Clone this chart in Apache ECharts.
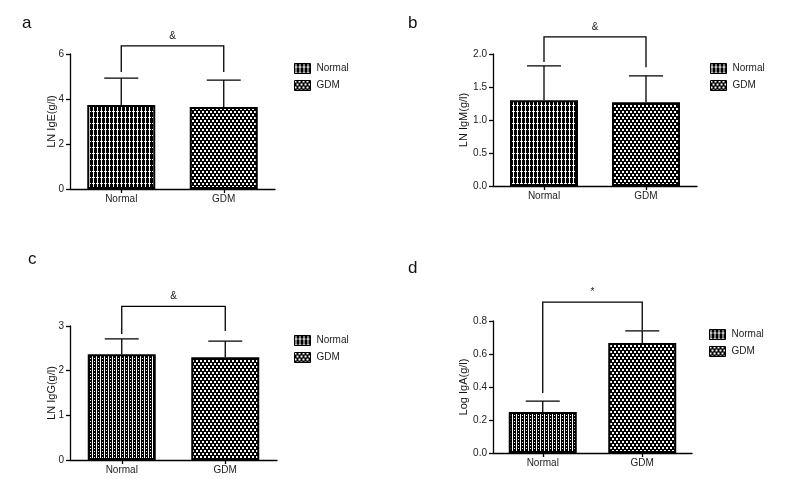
<!DOCTYPE html>
<html><head><meta charset="utf-8">
<script src="https://cdn.jsdelivr.net/npm/echarts@6/dist/echarts.min.js"></script>
<style>html,body{margin:0;padding:0;background:#fff}#c{width:792px;height:479px}</style>
</head><body><div id="c"></div>
<script>
// ---- data ----
const categories = ['Normal', 'GDM'];
const panelLetters = ['a', 'b', 'c', 'd'];
const yTitles = ['LN IgE(g/l)', 'LN IgM(g/l)', 'LN IgG(g/l)', 'Log IgA(g/l)'];
const meansA = [3.73, 3.65];
const sdA = [1.20, 1.19];
const meansB = [1.30, 1.27];
const sdB = [0.52, 0.40];
const meansC = [2.37, 2.30];
const sdC = [0.34, 0.36];
const meansD = [0.248, 0.667];
const sdD = [0.067, 0.073];
// y axis max / interval
const yMaxes = [6, 2.0, 3, 0.8];
const yIntervals = [2, 0.5, 1, 0.2];
const yDecimals = [0, 1, 0, 1];
// significance brackets: [left leg bottom, bracket top, right leg bottom]
const bracketA = [5.2, 6.36, 5.2];
const bracketB = [1.88, 2.26, 1.80];
const bracketC = [2.82, 3.44, 2.89];
const bracketD = [0.364, 0.915, 0.745];
const sigMarks = ['&', '&', '&', '*'];

// ---- patterns ----
function makePattern(kind) {
  const c = document.createElement('canvas');
  let w, h;
  if (kind === 'lines') { w = 4; h = 6; }
  else if (kind === 'dots') { w = 4; h = 3; }
  else { w = 4; h = 6; }
  c.width = w; c.height = h;
  const g = c.getContext('2d');
  g.fillStyle = '#000'; g.fillRect(0, 0, w, h);
  g.fillStyle = '#fff';
  if (kind === 'lines') {
    g.fillRect(1, 0, 1, h);
    g.fillRect(0, 3, 3, 1);
  } else if (kind === 'dots') {
    g.fillRect(0, 0, 1, h);
    g.fillRect(2, 1, 1, 1);
  } else {
    g.fillRect(0, 0, 2, 2);
    g.fillRect(2, 3, 2, 2);
  }
  return { image: c, repeat: 'repeat' };
}
const patLines = makePattern('lines');
const patDots = makePattern('dots');
const patChecker = makePattern('checker');

const panels = [
  { means: meansA, sd: sdA, br: bracketA, grid: { left: 70, top: 54, width: 205, height: 135 }, legend: { left: 289, top: 58 }, letter: [22, 15], normalPat: patLines, nameGap: 13 },
  { means: meansB, sd: sdB, br: bracketB, grid: { left: 493, top: 54, width: 204, height: 132 }, legend: { left: 705, top: 58 }, letter: [408, 15], normalPat: patLines, nameGap: 24 },
  { means: meansC, sd: sdC, br: bracketC, grid: { left: 70, top: 326, width: 207, height: 134 }, legend: { left: 289, top: 330 }, letter: [28, 251], normalPat: patDots, nameGap: 13 },
  { means: meansD, sd: sdD, br: bracketD, grid: { left: 493, top: 321, width: 199, height: 132 }, legend: { left: 704, top: 324 }, letter: [408, 260], normalPat: patDots, nameGap: 24 }
];

const font = 'Liberation Sans, Arial, sans-serif';
const option = { animation: false, backgroundColor: '#fff', grid: [], xAxis: [], yAxis: [], series: [], legend: [], graphic: [] };

panels.forEach((p, i) => {
  option.grid.push(Object.assign({ containLabel: false }, p.grid));
  option.xAxis.push({
    gridIndex: i, type: 'category', data: categories,
    axisLine: { lineStyle: { color: '#000', width: 1.3 } },
    axisTick: { show: true, alignWithLabel: true, length: 4, lineStyle: { color: '#000', width: 1.3 } },
    axisLabel: { color: '#222', fontSize: 10, fontFamily: font, margin: 5 },
    splitLine: { show: false }
  });
  option.yAxis.push({
    gridIndex: i, type: 'value', min: 0, max: yMaxes[i], interval: yIntervals[i],
    name: yTitles[i], nameLocation: 'middle', nameGap: p.nameGap, nameMoveOverlap: false,
    nameTextStyle: { color: '#111', fontSize: 11, fontFamily: font },
    axisLine: { show: true, lineStyle: { color: '#000', width: 1.3 } },
    axisTick: { show: true, inside: false, length: 4, lineStyle: { color: '#000', width: 1.3 } },
    axisLabel: { color: '#222', fontSize: 10, fontFamily: font, margin: 6,
      formatter: v => v.toFixed(yDecimals[i]) },
    splitLine: { show: false }
  });
  const barBase = {
    type: 'bar', xAxisIndex: i, yAxisIndex: i, barWidth: 68, barGap: '-100%'
  };
  option.series.push(Object.assign({}, barBase, {
    name: 'Normal', data: [p.means[0], '-'],
    itemStyle: { color: p.normalPat, borderColor: '#000', borderWidth: 2 }
  }));
  option.series.push(Object.assign({}, barBase, {
    name: 'GDM', data: ['-', p.means[1]],
    itemStyle: { color: patChecker, borderColor: '#000', borderWidth: 2 }
  }));
  // error bars (upper only)
  option.series.push({
    type: 'custom', xAxisIndex: i, yAxisIndex: i, z: 3,
    data: categories.map((c, k) => [k, p.means[k], p.means[k] + p.sd[k]]),
    renderItem: function (params, api) {
      const b = api.coord([api.value(0), api.value(1)]);
      const t = api.coord([api.value(0), api.value(2)]);
      const hw = 17;
      return { type: 'group', children: [
        { type: 'line', shape: { x1: b[0], y1: b[1], x2: t[0], y2: t[1] }, style: { stroke: '#000', lineWidth: 1.3 } },
        { type: 'line', shape: { x1: t[0] - hw, y1: t[1], x2: t[0] + hw, y2: t[1] }, style: { stroke: '#000', lineWidth: 1.3 } }
      ] };
    }
  });
  // significance bracket
  option.series.push({
    type: 'custom', xAxisIndex: i, yAxisIndex: i, z: 3, clip: false,
    data: [[0, p.br[0], p.br[1], p.br[2]]],
    renderItem: function (params, api) {
      const a = api.coord([0, api.value(1)]);
      const b = api.coord([0, api.value(2)]);
      const c = api.coord([1, api.value(2)]);
      const d = api.coord([1, api.value(3)]);
      return { type: 'group', children: [
        { type: 'polyline', shape: { points: [a, b, c, d] }, style: { stroke: '#000', lineWidth: 1.3, fill: null } },
        { type: 'text', style: { text: sigMarks[i], x: (b[0] + c[0]) / 2, y: b[1] - 5, align: 'center', verticalAlign: 'bottom', fill: '#222', fontSize: 10, fontFamily: font } }
      ] };
    }
  });
  option.legend.push({
    left: p.legend.left, top: p.legend.top, orient: 'vertical', itemWidth: 16, itemHeight: 10, itemGap: 6,
    icon: 'rect', data: categories, selectedMode: false,
    textStyle: { color: '#222', fontSize: 10, fontFamily: font, padding: [0, 0, 0, 1] },
    itemStyle: { borderColor: '#000', borderWidth: 1 }
  });
  option.graphic.push({ type: 'text', left: p.letter[0], top: p.letter[1], style: { text: panelLetters[i], fontSize: 17, fontFamily: font, fill: '#111' } });
});

const chart = echarts.init(document.getElementById('c'), null, { renderer: 'canvas' });
chart.setOption(option);
</script></body></html>
